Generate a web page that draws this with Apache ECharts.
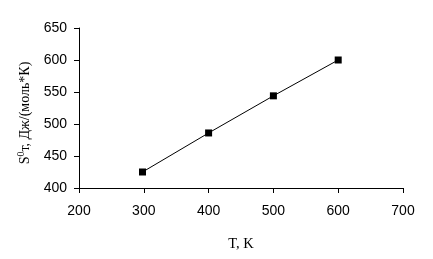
<!DOCTYPE html>
<html><head><meta charset="utf-8">
<script src="https://cdn.jsdelivr.net/npm/echarts@6/dist/echarts.min.js"></script>
<style>html,body{margin:0;padding:0;background:#fff}#c{width:433px;height:259px}</style>
</head><body><div id="c"></div>
<script>
const temps = [298, 400, 500, 600];
const entropy = [425, 486, 544, 600];
const xTicks = [200, 700, 100];
const yTicks = [400, 650, 50];

const chart = echarts.init(document.getElementById('c'), null, {renderer: 'canvas'});
chart.setOption({
  animation: false,
  backgroundColor: '#fff',
  grid: {left: 79, right: 30, top: 28, bottom: 71, containLabel: false},
  xAxis: {
    type: 'value', min: xTicks[0], max: xTicks[1], interval: xTicks[2],
    name: 'T, K', nameLocation: 'middle', nameGap: 49,
    nameTextStyle: {fontFamily: 'Liberation Serif', fontSize: 14.5, color: '#000'},
    axisLine: {lineStyle: {color: '#000', width: 1}},
    axisTick: {show: true, inside: false, length: 5, lineStyle: {color: '#000'}},
    axisLabel: {fontFamily: 'Liberation Sans', fontSize: 14, color: '#000', margin: 16},
    splitLine: {show: false}
  },
  yAxis: {
    type: 'value', min: yTicks[0], max: yTicks[1], interval: yTicks[2],
    name: 'S{sup|0}т, Дж/(моль*К)', nameLocation: 'middle', nameGap: 42,
    nameTextStyle: {fontFamily: 'Liberation Serif', fontSize: 14, color: '#000', padding: [0, 10, 0, 0],
      rich: {sup: {fontFamily: 'Liberation Serif', fontSize: 10, verticalAlign: 'top', padding: [0,0,8,0], color: '#000'}}},
    axisLine: {show: true, lineStyle: {color: '#000', width: 1}},
    axisTick: {show: true, inside: false, length: 5, lineStyle: {color: '#000'}},
    axisLabel: {fontFamily: 'Liberation Sans', fontSize: 14, color: '#000', margin: 12},
    splitLine: {show: false}
  },
  series: [{
    type: 'line',
    data: temps.map((t, i) => [t, entropy[i]]),
    symbol: 'rect', symbolSize: 7,
    itemStyle: {color: '#000'},
    lineStyle: {color: '#000', width: 1}
  }]
});
</script></body></html>
